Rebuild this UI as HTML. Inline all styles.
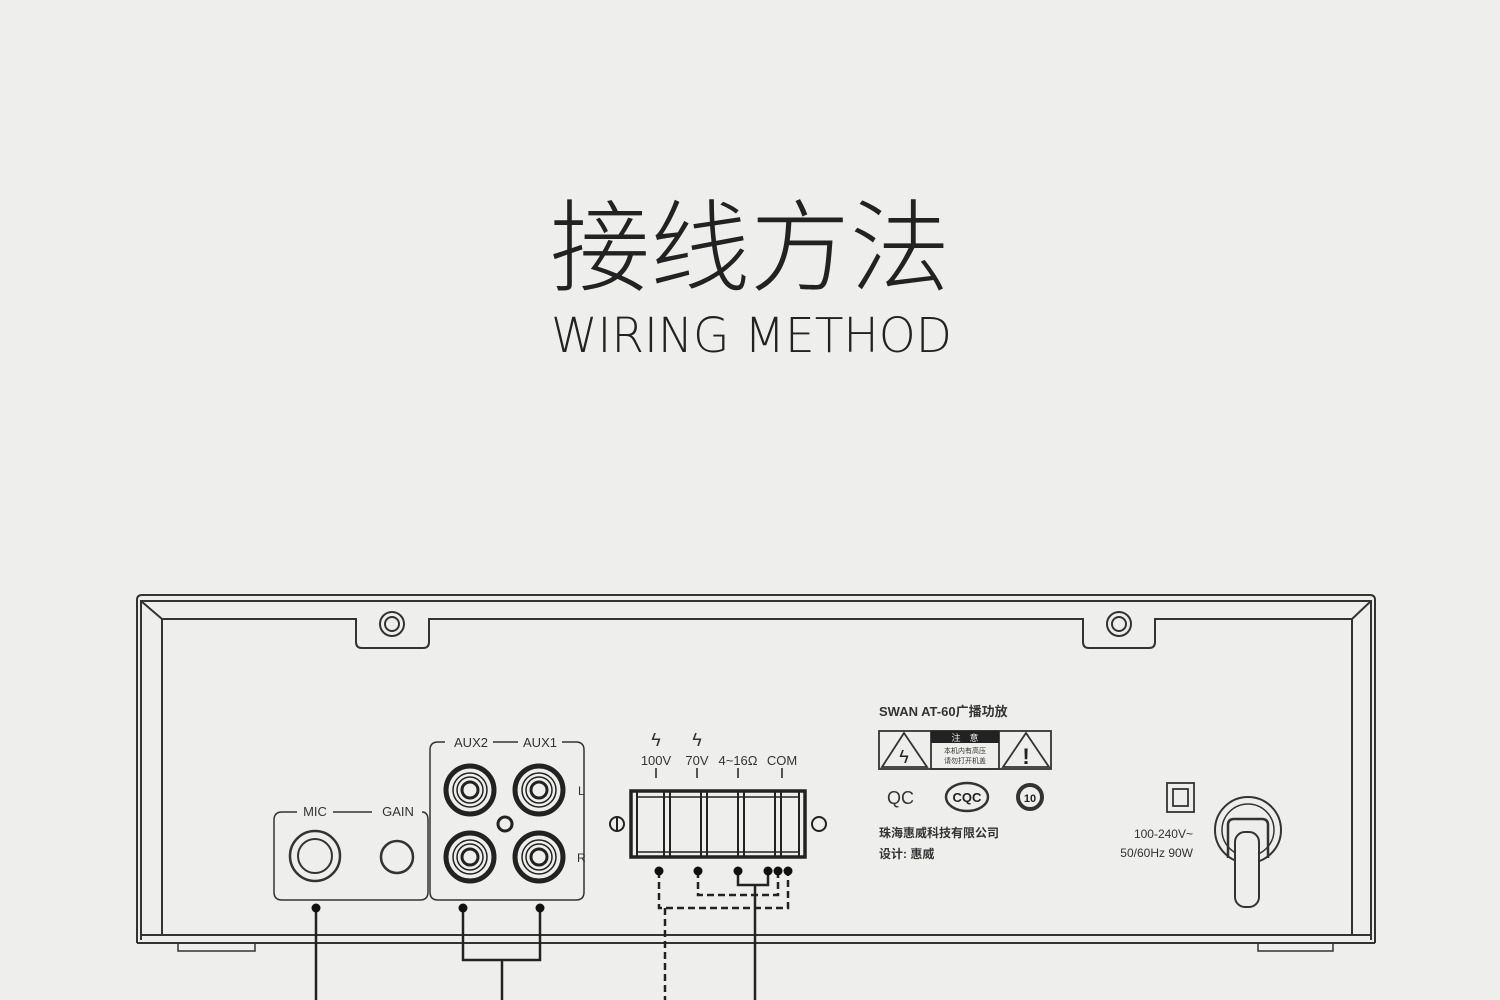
<!DOCTYPE html>
<html><head><meta charset="utf-8"><style>
html,body{margin:0;padding:0;background:#eeeeec;}
svg{display:block}
</style></head><body>
<svg width="1500" height="1000" viewBox="0 0 1500 1000" xmlns="http://www.w3.org/2000/svg">
<rect width="1500" height="1000" fill="#eeeeec"/>
<text x="750" y="283" text-anchor="middle" font-family="Noto Sans CJK SC, sans-serif" font-weight="300" font-size="100" fill="#222" textLength="400" lengthAdjust="spacingAndGlyphs">接线方法</text>
<text x="551" y="352" font-family="DejaVu Sans, Liberation Sans, sans-serif" font-weight="300" font-size="48" fill="#222" textLength="401" lengthAdjust="spacingAndGlyphs">WIRING METHOD</text>

<g fill="none" stroke="#333" stroke-width="2">
<!-- chassis -->
<path d="M137 943 L137 600 Q137 595 142 595 L1370 595 Q1375 595 1375 600 L1375 943"/>
<path d="M141 940 L141 601 L1371 601 L1371 940"/>
<path d="M141 601 L162 619 M1371 601 L1352 619"/>
<path d="M162 935 L162 619 L356 619 L356 642 Q356 648 362 648 L423 648 Q429 648 429 642 L429 619 L1083 619 L1083 642 Q1083 648 1089 648 L1149 648 Q1155 648 1155 642 L1155 619 L1352 619 L1352 935"/>
<path d="M137 943 L1375 943 M141 935 L1371 935"/>
<path d="M178 943 L178 951 L255 951 L255 943 M1258 943 L1258 951 L1333 951 L1333 943" stroke-width="1.5"/>
<circle cx="392" cy="624" r="12"/><circle cx="392" cy="624" r="7"/>
<circle cx="1119" cy="624" r="12"/><circle cx="1119" cy="624" r="7"/>
<!-- MIC panel -->
<path d="M297 812 L282 812 Q274 812 274 820 L274 892 Q274 900 282 900 L420 900 Q428 900 428 892 L428 820 Q428 812 422 812" stroke-width="1.5"/>
<path d="M333 812 L372 812" stroke-width="1.5"/>
<circle cx="315" cy="856" r="25" stroke-width="2.5"/><circle cx="315" cy="856" r="17"/>
<circle cx="397" cy="857" r="16" stroke-width="2.5"/>
<!-- AUX panel -->
<path d="M445 742 L438 742 Q430 742 430 750 L430 892 Q430 900 438 900 L576 900 Q584 900 584 892 L584 750 Q584 742 576 742 L562 742" stroke-width="1.5"/>
<path d="M493 742 L518 742" stroke-width="1.5"/>
</g>
<g font-family="Liberation Sans, sans-serif" font-size="13" fill="#333">
<text x="315" y="816" text-anchor="middle">MIC</text>
<text x="398" y="816" text-anchor="middle">GAIN</text>
<text x="471" y="747" text-anchor="middle">AUX2</text>
<text x="540" y="747" text-anchor="middle">AUX1</text>
<text x="578" y="795" font-size="12">L</text>
<text x="577" y="862" font-size="12">R</text>
<text x="656" y="765" text-anchor="middle">100V</text>
<text x="697" y="765" text-anchor="middle">70V</text>
<text x="738" y="765" text-anchor="middle">4~16Ω</text>
<text x="782" y="765" text-anchor="middle">COM</text>
<text x="656" y="746" text-anchor="middle" font-size="18">ϟ</text>
<text x="697" y="746" text-anchor="middle" font-size="18">ϟ</text>
</g>
<g fill="none" stroke="#222">
<g stroke-width="5"><circle cx="470" cy="790" r="24"/><circle cx="539" cy="790" r="24"/><circle cx="470" cy="857" r="24"/><circle cx="539" cy="857" r="24"/></g>
<g stroke-width="1.5">
<circle cx="470" cy="790" r="17"/><circle cx="470" cy="790" r="13"/>
<circle cx="539" cy="790" r="17"/><circle cx="539" cy="790" r="13"/>
<circle cx="470" cy="857" r="17"/><circle cx="470" cy="857" r="13"/>
<circle cx="539" cy="857" r="17"/><circle cx="539" cy="857" r="13"/>
</g>
<g stroke-width="3"><circle cx="470" cy="790" r="8"/><circle cx="539" cy="790" r="8"/><circle cx="470" cy="857" r="8"/><circle cx="539" cy="857" r="8"/></g>
<circle cx="505" cy="824" r="7" stroke-width="3"/>
<!-- terminal -->
<rect x="631" y="791" width="174" height="66" stroke-width="3.5"/>
<path d="M637 791 V857 M664 791 V857 M670 791 V857 M701 791 V857 M707 791 V857 M738 791 V857 M744 791 V857 M775 791 V857 M781 791 V857 M799 791 V857" stroke-width="2"/>
<path d="M637 797 H799 M637 852 H799" stroke-width="1.5"/>
<path d="M656 768 V778 M697 768 V778 M738 768 V778 M782 768 V778" stroke-width="1.5"/>
<circle cx="617" cy="824" r="7" stroke-width="2"/><path d="M617 817 V831" stroke-width="2"/>
<circle cx="819" cy="824" r="7" stroke-width="2"/>
<!-- wires -->
<path d="M316 908 V1000 M463 908 V960 H540 V908 M502 960 V1000 M738 871 V885 H768 V871 M755 885 V1000" stroke-width="2.5"/>
<path d="M698 871 V895 H778 V871 M659 871 V908 H788 V871 M665 908 V1000" stroke-width="2.5" stroke-dasharray="7 4"/>
</g>
<g fill="#111">
<circle cx="316" cy="908" r="4.5"/><circle cx="463" cy="908" r="4.5"/><circle cx="540" cy="908" r="4.5"/>
<circle cx="659" cy="871" r="4.5"/><circle cx="698" cy="871" r="4.5"/><circle cx="738" cy="871" r="4.5"/>
<circle cx="768" cy="871" r="4.5"/><circle cx="778" cy="871" r="4.5"/><circle cx="788" cy="871" r="4.5"/>
</g>
<!-- right labels -->
<g font-family="Liberation Sans, Noto Sans CJK SC, sans-serif" fill="#333">
<text x="879" y="716" font-size="13" font-weight="bold">SWAN AT-60广播功放</text>
<text x="887" y="804" font-size="18">QC</text>
<text x="879" y="837" font-size="12" font-weight="bold">珠海惠威科技有限公司</text>
<text x="879" y="858" font-size="12" font-weight="bold">设计: 惠威</text>
<text x="1193" y="838" font-size="12" text-anchor="end">100-240V~</text>
<text x="1193" y="857" font-size="12" text-anchor="end">50/60Hz 90W</text>
</g>
<g fill="none" stroke="#333" stroke-width="1.8">
<rect x="879" y="731" width="172" height="38"/>
<path d="M882 767 L904 733 L927 767 Z M1003 767 L1026 733 L1049 767 Z"/>
<rect x="931" y="731" width="68" height="38"/>
<rect x="1167" y="783" width="27" height="29"/><rect x="1173" y="789" width="15" height="17"/>
<ellipse cx="967" cy="797" rx="21" ry="14" stroke-width="2.5"/>
<circle cx="1030" cy="797" r="12" stroke-width="4"/>
<circle cx="1248" cy="830" r="33" stroke-width="2"/><circle cx="1248" cy="830" r="26" stroke-width="1.5"/>
<path d="M1228 858 V825 Q1228 819 1234 819 L1262 819 Q1268 819 1268 825 V858" stroke-width="2.5"/>
<rect x="1235" y="832" width="24" height="75" rx="10" fill="#eeeeec" stroke-width="2"/>
</g>
<rect x="931" y="731" width="68" height="12" fill="#222"/>
<text x="965" y="741" font-size="9" fill="#eee" text-anchor="middle" font-family="Noto Sans CJK SC, sans-serif">注　意</text>
<text x="965" y="753" font-size="7" fill="#333" text-anchor="middle" font-family="Noto Sans CJK SC, sans-serif">本机内有高压</text>
<text x="965" y="763" font-size="7" fill="#333" text-anchor="middle" font-family="Noto Sans CJK SC, sans-serif">请勿打开机盖</text>
<text x="904" y="763" font-size="18" fill="#222" text-anchor="middle" font-family="Liberation Sans, sans-serif">ϟ</text>
<text x="1026" y="764" font-size="22" fill="#222" text-anchor="middle" font-family="Liberation Sans, sans-serif" font-weight="bold">!</text>
<text x="967" y="802" font-size="13" fill="#222" text-anchor="middle" font-family="Liberation Sans, sans-serif" font-weight="bold">CQC</text>
<text x="1030" y="802" font-size="11" fill="#222" text-anchor="middle" font-family="Liberation Sans, sans-serif" font-weight="bold">10</text>
</svg>
</body></html>
